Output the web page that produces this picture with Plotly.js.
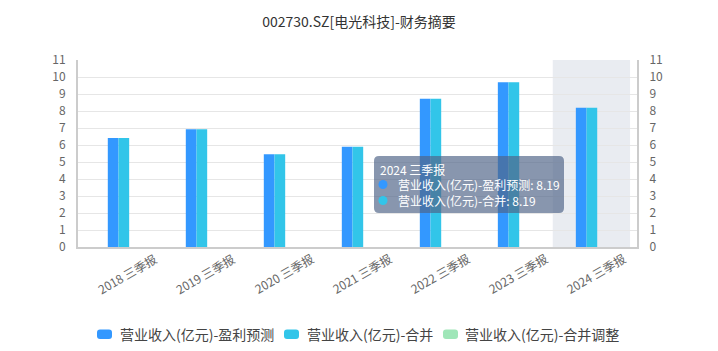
<!DOCTYPE html>
<html><head><meta charset="utf-8">
<script src="https://cdn.plot.ly/plotly-3.0.1.min.js"></script>
<style>html,body{margin:0;padding:0;background:#fff}#chart{width:718px;height:351px}</style>
</head><body><div id="chart"></div>
<script>
const categories = ["2018 三季报","2019 三季报","2020 三季报","2021 三季报","2022 三季报","2023 三季报","2024 三季报"];
const forecast = [6.41, 6.92, 5.45, 5.90, 8.72, 9.69, 8.19];
const merged = [6.41, 6.92, 5.45, 5.90, 8.72, 9.69, 8.19];
const adjusted = [];
const seriesNames = ["营业收入(亿元)-盈利预测","营业收入(亿元)-合并","营业收入(亿元)-合并调整"];
const colors = ["#3398ff","#32c5e9","#9fe6b8"];
const highlightIndex = 6;

const font = "'Noto Sans CJK SC', 'Microsoft YaHei', sans-serif";
// plot area in pixels
const L = 78, R = 637, T = 60, B = 247;
const W = 718, H = 351;
const px = x => (x - L) / (R - L);
const py = y => (B - y) / (B - T);
function roundRect(x0, y0, x1, y1, r) {
  const X = v => px(v).toFixed(5), Y = v => py(v).toFixed(5);
  return `M ${X(x0+r)},${Y(y0)} L ${X(x1-r)},${Y(y0)} Q ${X(x1)},${Y(y0)} ${X(x1)},${Y(y0+r)} ` +
         `L ${X(x1)},${Y(y1-r)} Q ${X(x1)},${Y(y1)} ${X(x1-r)},${Y(y1)} L ${X(x0+r)},${Y(y1)} ` +
         `Q ${X(x0)},${Y(y1)} ${X(x0)},${Y(y1-r)} L ${X(x0)},${Y(y0+r)} Q ${X(x0)},${Y(y0)} ${X(x0+r)},${Y(y0)} Z`;
}

const traces = [
  {type:'bar', x:categories, y:forecast, name:seriesNames[0], marker:{color:colors[0]}, width:0.137, offset:-0.137, hoverinfo:'none', showlegend:false},
  {type:'bar', x:categories, y:merged, name:seriesNames[1], marker:{color:colors[1]}, width:0.137, offset:0, hoverinfo:'none', showlegend:false},
  {type:'bar', x:categories, y:adjusted, name:seriesNames[2], marker:{color:colors[2]}, hoverinfo:'none', showlegend:false},
  {type:'scatter', x:categories, y:forecast, yaxis:'y2', mode:'markers', marker:{opacity:0}, showlegend:false, hoverinfo:'none'}
];

const shapes = [
  {type:'rect', xref:'x', yref:'paper', x0:highlightIndex-0.433, x1:highlightIndex+0.558, y0:0, y1:1, fillcolor:'#e9ecf1', line:{width:0}, layer:'below'},
  {type:'path', xref:'paper', yref:'paper', path:roundRect(374,156,564,213,5), fillcolor:'rgba(80,100,135,0.68)', line:{width:0}, layer:'above'},
  {type:'circle', xref:'paper', yref:'paper', x0:px(378.5), x1:px(387.5), y0:py(180), y1:py(189), fillcolor:colors[0], line:{width:0}, layer:'above'},
  {type:'circle', xref:'paper', yref:'paper', x0:px(378.5), x1:px(387.5), y0:py(196), y1:py(205), fillcolor:colors[1], line:{width:0}, layer:'above'}
];
const annotations = [
  {xref:'paper', yref:'paper', x:px(379), y:py(169.5), xanchor:'left', yanchor:'middle', showarrow:false, borderpad:0,
   text:categories[highlightIndex], font:{color:'#fff', size:12, family:font}},
  {xref:'paper', yref:'paper', x:px(397), y:py(192.8), xanchor:'left', yanchor:'middle', align:'left', showarrow:false, borderpad:0,
   text:seriesNames[0] + ": " + forecast[highlightIndex].toFixed(2) + "<br>" + seriesNames[1] + ": " + merged[highlightIndex].toFixed(2),
   font:{color:'#fff', size:12, family:font}}
];
// x tick labels (rotated about their centre)
categories.forEach(c => {
  annotations.push({xref:'x', yref:'paper', x:c, xshift:8.5, y:py(273), xanchor:'center', yanchor:'middle', textangle:-30, showarrow:false, text:c, font:{size:12, color:'#666', family:font}});
});
// custom legend
const legendItems = [
  {sym:[97,112], text:118},
  {sym:[284,299], text:305},
  {sym:[443,458], text:463}
];
legendItems.forEach((it, i) => {
  shapes.push({type:'path', xref:'paper', yref:'paper', path:roundRect(it.sym[0],329.5,it.sym[1],339,3), fillcolor:colors[i], line:{width:0}, layer:'above'});
  annotations.push({xref:'paper', yref:'paper', x:px(it.text), y:py(334), xanchor:'left', yanchor:'middle', showarrow:false, text:seriesNames[i], font:{size:14, color:'#444', family:font}});
});

const layout = {
  width:W, height:H,
  margin:{l:L, r:W-R, t:T, b:H-B},
  paper_bgcolor:'#fff', plot_bgcolor:'#fff',
  font:{family:font, color:'#666', size:12},
  title:{text:"002730.SZ[电光科技]-财务摘要", x:0.5, xanchor:'center', y:0.937, yanchor:'middle', font:{size:14, color:'#333', family:font}},
  barmode:'group',
  xaxis:{type:'category', range:[-0.519, 6.647], showgrid:false, showline:true, linecolor:'#ccc', linewidth:2,
         ticks:'', showticklabels:false, automargin:false, fixedrange:true},
  yaxis:{range:[0,11], dtick:1, showgrid:true, gridcolor:'#e6e6e6', showline:true, linecolor:'#ccc', linewidth:2,
         ticks:'', ticklabelstandoff:8, tickfont:{size:12, color:'#666'}, zeroline:false, automargin:false},
  yaxis2:{range:[0,11], dtick:1, overlaying:'y', side:'right', showgrid:false, showline:true, linecolor:'#ccc', linewidth:2,
         ticks:'', ticklabelstandoff:8, tickfont:{size:12, color:'#666'}, zeroline:false, automargin:false},
  shapes:shapes,
  annotations:annotations,
  showlegend:false
};
Plotly.newPlot('chart', traces, layout, {displayModeBar:false, staticPlot:true});
</script></body></html>
